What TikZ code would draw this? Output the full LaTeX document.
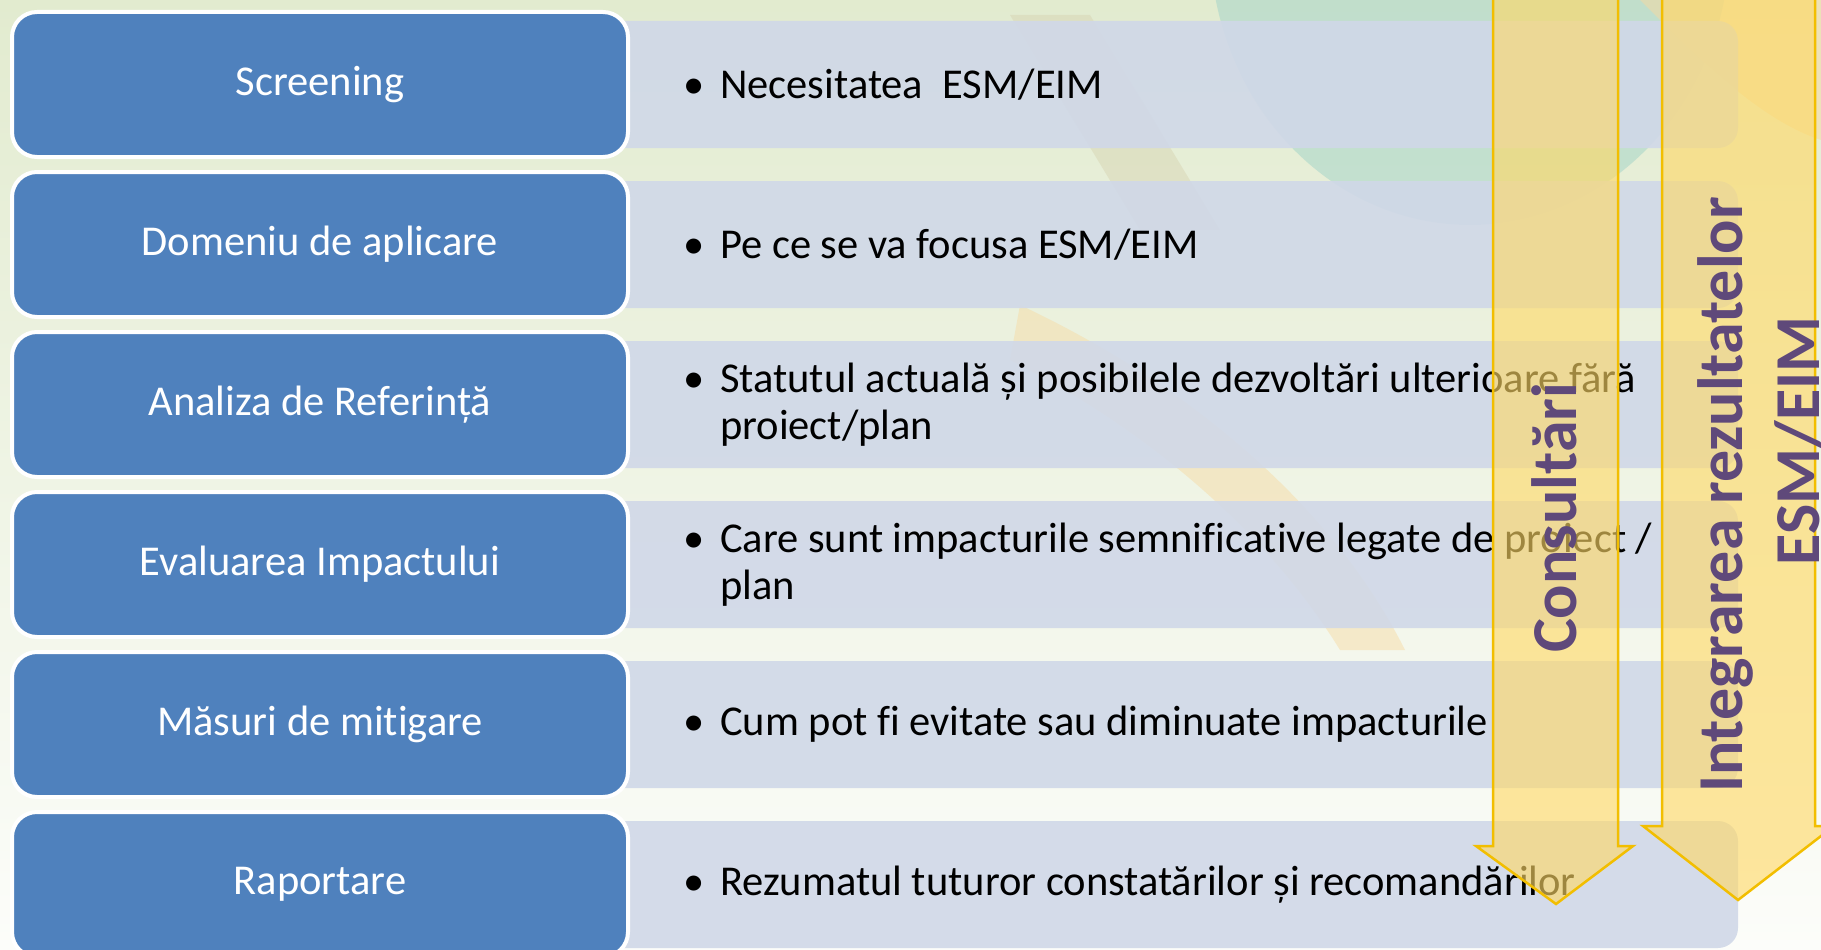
\documentclass[tikz,border=0pt]{standalone}
\usepackage{fontspec}
\setmainfont{Carlito}[Ligatures=NoCommon]
\definecolor{boxblue}{HTML}{4F81BD}
\definecolor{barfill}{HTML}{D0D8E8}
\definecolor{arrowfill}{HTML}{FFD966}
\definecolor{arrowline}{HTML}{F2BE00}
\definecolor{purp}{HTML}{5F497A}
\definecolor{bgtop}{HTML}{E2EBCF}
\definecolor{bgbot}{HTML}{FCFDFA}
\definecolor{tealbg}{HTML}{A6D5C9}
\definecolor{orangebg}{HTML}{F7D9A0}
\definecolor{khakibg}{HTML}{D6D2B0}
\newcommand{\bul}{\makebox[37pt][l]{•}}
\begin{document}
\begin{tikzpicture}[x=1pt,y=-1pt,
  stagebox/.style={draw=white, line width=4pt, fill=boxblue, rounded corners=25pt,
    minimum width=616pt, minimum height=145pt, text=white, inner sep=0pt,
    font=\fontsize{42.5pt}{46.5pt}\selectfont},
  barbox/.style={fill=barfill, fill opacity=0.9, rounded corners=20pt,
    minimum width=1138pt, minimum height=127pt, inner sep=0pt},
  bultext/.style={anchor=west, align=left, inner sep=0pt, text=black,
    font=\fontsize{42.5pt}{46.5pt}\selectfont},
  bigarrow/.style={fill=arrowfill, fill opacity=0.62, draw=arrowline, line width=2.5pt, line join=miter},
  arrowlabel/.style={text=purp, rotate=90, inner sep=0pt,
    font=\fontsize{64pt}{73pt}\selectfont\bfseries}]
\useasboundingbox (0,0) rectangle (1821,950);
\clip (0,0) rectangle (1821,950);
% background
\shade[top color=bgtop, bottom color=bgbot] (0,0) rectangle (1821,950);
\fill[tealbg, opacity=0.55] (1470,-60) ellipse [x radius=260pt, y radius=285pt];
\fill[orangebg, opacity=0.5] (1640,0) -- (1821,0) -- (1821,140) .. controls (1760,120) and (1700,60) .. cycle;
\fill[khakibg, opacity=0.45] (1010,15) -- (1090,15) -- (1220,230) -- (1140,230) -- cycle;
\fill[orangebg, opacity=0.45] (1020,305) .. controls (1180,380) and (1330,500) .. (1405,650)
  -- (1340,650) .. controls (1260,520) and (1130,420) .. (1010,360) -- cycle;
% bars
\foreach \i/\y in {1/84.5,2/244.5,3/404.5,4/564.5,5/724.5,6/884.5}{
  \node[barbox] (bar\i) at (1169,\y) {};
}
% stage boxes
\node[stagebox] (s1) at (320,84.5) {Screening};
\node[stagebox] (s2) at (320,244.5) {Domeniu de aplicare};
\node[stagebox] (s3) at (320,404.5) {Analiza de Referință};
\node[stagebox] (s4) at (320,564.5) {Evaluarea Impactului};
\node[stagebox] (s5) at (320,724.5) {Măsuri de mitigare};
\node[stagebox] (s6) at (320,884.5) {Raportare};
% bullet texts
\node[bultext] (t1) at (683,84.5) {\bul Necesitatea~ ESM/EIM};
\node[bultext] (t2) at (683,244.5) {\bul Pe ce se va focusa ESM/EIM};
\node[bultext] (t3) at (683,404.5) {\bul Statutul actuală și posibilele dezvoltări ulterioare fără\\\hspace*{37pt}proiect/plan};
\node[bultext] (t4) at (683,564.5) {\bul Care sunt impacturile semnificative legate de proiect /\\\hspace*{37pt}plan};
\node[bultext] (t5) at (683,724.5) {\bul Cum pot fi evitate sau diminuate impacturile};
\node[bultext] (t6) at (683,884.5) {\bul Rezumatul tuturor constatărilor și recomandărilor};
% arrows
\path[bigarrow] (1493,-10) -- (1493,846) -- (1476,846) -- (1556,904) -- (1633,846) -- (1618,846) -- (1618,-10) -- cycle;
\path[bigarrow] (1662,-10) -- (1662,826) -- (1643,826) -- (1738,900) -- (1834,826) -- (1815,826) -- (1815,-10) -- cycle;
% arrow labels
\node[arrowlabel] (c1) at (1554,518) {Consultări};
\node[arrowlabel] (c2) at (1725,495) {Integrarea rezultatelor};
\node[arrowlabel] (c3) at (1798,441) {ESM/EIM};
\end{tikzpicture}
\end{document}
